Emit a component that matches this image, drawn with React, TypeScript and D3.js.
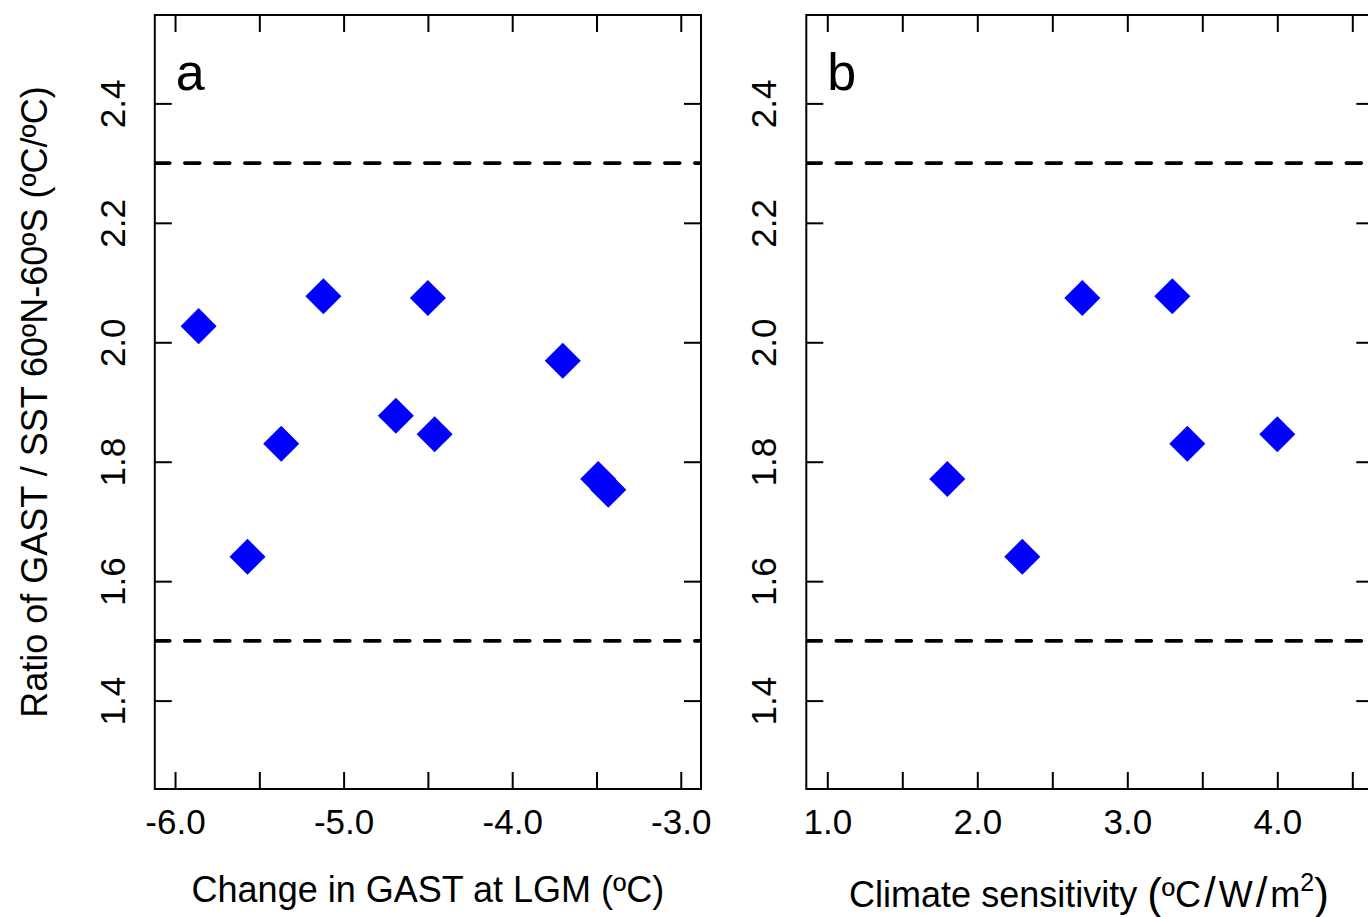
import { useEffect, useRef } from 'react'
import * as d3 from 'd3'

// panel a: change in GAST at LGM vs ratio
const lgmChange = [-5.86, -5.57, -5.37, -5.12, -4.69, -4.5, -4.46, -3.7, -3.49, -3.43]
const lgmRatio = [2.027, 1.641, 1.83, 2.077, 1.877, 2.074, 1.846, 1.969, 1.771, 1.753]
// panel b: climate sensitivity vs ratio
const sensitivity = [1.8, 2.3, 2.7, 3.3, 3.4, 4.0]
const sensRatio = [1.771, 1.641, 2.074, 2.077, 1.83, 1.846]

const ratioBounds = [1.5, 2.3]
const yTicks = [1.4, 1.6, 1.8, 2.0, 2.2, 2.4]
const lgmTicks = [-6, -5.5, -5, -4.5, -4, -3.5, -3]
const lgmLabels = [-6, -5, -4, -3]
const sensTicks = [1, 1.5, 2, 2.5, 3, 3.5, 4, 4.5]
const sensLabels = [1, 2, 3, 4]

const FONT = "'Liberation Sans', Arial, sans-serif"

// R-style labels: plain hyphen for minus
const fmt = (v: number) => v.toFixed(1)

export default function App() {
  const svgRef = useRef<SVGSVGElement>(null)

  useEffect(() => {
    if (!svgRef.current) return
    document.body.style.margin = '0'
    const svg = d3.select(svgRef.current)
    svg.selectAll('*').remove()

    const width = 1368
    const height = 917
    const top = 15
    const bottom = 789
    const tick = 17

    svg.attr('width', width).attr('height', height).style('display', 'block')
    svg.append('rect').attr('width', width).attr('height', height).attr('fill', '#fff')

    const yScale = d3.scaleLinear().domain([1.252, 2.548]).range([bottom, top])

    function drawPanel(opts: {
      x0: number
      x1: number
      domain: [number, number]
      ticks: number[]
      labels: number[]
      xs: number[]
      ys: number[]
      tag: string
    }) {
      const xScale = d3.scaleLinear().domain(opts.domain).range([opts.x0, opts.x1])
      const g = svg.append('g').attr('font-family', FONT)

      const clipId = 'clip-' + opts.tag
      svg
        .append('clipPath')
        .attr('id', clipId)
        .append('rect')
        .attr('x', opts.x0)
        .attr('y', top)
        .attr('width', opts.x1 - opts.x0)
        .attr('height', bottom - top)

      // dashed bounds
      g.append('g')
        .attr('clip-path', `url(#${clipId})`)
        .selectAll('line')
        .data(ratioBounds)
        .enter()
        .append('line')
        .attr('x1', opts.x0)
        .attr('x2', opts.x1)
        .attr('y1', (d) => yScale(d))
        .attr('y2', (d) => yScale(d))
        .attr('stroke', '#000')
        .attr('stroke-width', 3.6)
        .attr('stroke-dasharray', '15 15')
        .attr('stroke-linecap', 'round')

      // bottom axis
      const bx = g
        .append('g')
        .attr('transform', `translate(0,${bottom})`)
        .call(
          d3
            .axisBottom(xScale)
            .tickValues(opts.ticks)
            .tickSize(-tick)
            .tickFormat((d) => (opts.labels.includes(+d) ? fmt(+d) : ''))
        )
      bx.select('.domain').remove()
      bx.selectAll('line').attr('stroke', '#000').attr('stroke-width', 2)
      bx.selectAll('text')
        .attr('y', 45)
        .attr('dy', 0)
        .attr('fill', '#000')
        .attr('font-size', 35)
        .attr('font-family', FONT)

      // top ticks
      const tx = g
        .append('g')
        .attr('transform', `translate(0,${top})`)
        .call(d3.axisTop(xScale).tickValues(opts.ticks).tickSize(-tick).tickFormat(() => ''))
      tx.select('.domain').remove()
      tx.selectAll('line').attr('stroke', '#000').attr('stroke-width', 2)

      // left axis
      const ly = g
        .append('g')
        .attr('transform', `translate(${opts.x0},0)`)
        .call(d3.axisLeft(yScale).tickValues(yTicks).tickSize(-tick).tickFormat((d) => fmt(+d)))
      ly.select('.domain').remove()
      ly.selectAll('line').attr('stroke', '#000').attr('stroke-width', 2)
      ly.selectAll('text')
        .attr('transform', 'rotate(-90)')
        .attr('x', 0)
        .attr('y', -30)
        .attr('dy', 0)
        .attr('text-anchor', 'middle')
        .attr('fill', '#000')
        .attr('font-size', 35)
        .attr('font-family', FONT)

      // right ticks
      const ry = g
        .append('g')
        .attr('transform', `translate(${opts.x1},0)`)
        .call(d3.axisRight(yScale).tickValues(yTicks).tickSize(-tick).tickFormat(() => ''))
      ry.select('.domain').remove()
      ry.selectAll('line').attr('stroke', '#000').attr('stroke-width', 2)

      // box
      g.append('rect')
        .attr('x', opts.x0)
        .attr('y', top)
        .attr('width', opts.x1 - opts.x0)
        .attr('height', bottom - top)
        .attr('fill', 'none')
        .attr('stroke', '#000')
        .attr('stroke-width', 2)

      // diamonds
      const diamond = d3.symbol().type(d3.symbolSquare).size(650)
      g.selectAll('.pt')
        .data(opts.xs.map((x, i) => ({ x, y: opts.ys[i] })))
        .enter()
        .append('path')
        .attr('class', 'pt')
        .attr('d', diamond)
        .attr('transform', (d) => `translate(${xScale(d.x)},${yScale(d.y)}) rotate(45)`)
        .attr('fill', '#0000ff')

      // panel letter
      g.append('text')
        .attr('x', opts.x0 + 21)
        .attr('y', 90)
        .attr('font-size', 52)
        .attr('fill', '#000')
        .text(opts.tag)

      return g
    }

    const ga = drawPanel({
      x0: 154.8,
      x1: 701,
      domain: [-6.12, -2.88],
      ticks: lgmTicks,
      labels: lgmLabels,
      xs: lgmChange,
      ys: lgmRatio,
      tag: 'a',
    })

    const gb = drawPanel({
      x0: 806.3,
      x1: 1373.3,
      domain: [0.86, 4.64],
      ticks: sensTicks,
      labels: sensLabels,
      xs: sensitivity,
      ys: sensRatio,
      tag: 'b',
    })

    // y-axis title
    ga.append('text')
      .attr('transform', `translate(47,${(top + bottom) / 2}) rotate(-90)`)
      .attr('text-anchor', 'middle')
      .attr('font-size', 36)
      .attr('fill', '#000')
      .text('Ratio of GAST / SST 60ºN-60ºS (ºC/ºC)')

    // x-axis titles
    ga.append('text')
      .attr('x', (154.8 + 701) / 2)
      .attr('y', 902)
      .attr('text-anchor', 'middle')
      .attr('font-size', 36)
      .attr('fill', '#000')
      .text('Change in GAST at LGM (ºC)')

    const tb = gb
      .append('text')
      .attr('x', 1089)
      .attr('y', 907)
      .attr('text-anchor', 'middle')
      .attr('font-size', 36)
      .attr('fill', '#000')
    tb.append('tspan').text('Climate sensitivity ')
    tb.append('tspan').attr('font-size', 44).attr('dy', 2).text('(')
    tb.append('tspan').attr('dy', -2).text('ºC')
    tb.append('tspan').attr('font-size', 42).attr('dx', 3).text('/')
    tb.append('tspan').attr('dx', 3).text('W')
    tb.append('tspan').attr('font-size', 42).attr('dx', 3).text('/')
    tb.append('tspan').attr('dx', 3).text('m')
    tb.append('tspan').attr('font-size', 25).attr('dy', -16).text('2')
    tb.append('tspan').attr('font-size', 44).attr('dy', 18).text(')')
  }, [])

  return <svg ref={svgRef}></svg>
}
